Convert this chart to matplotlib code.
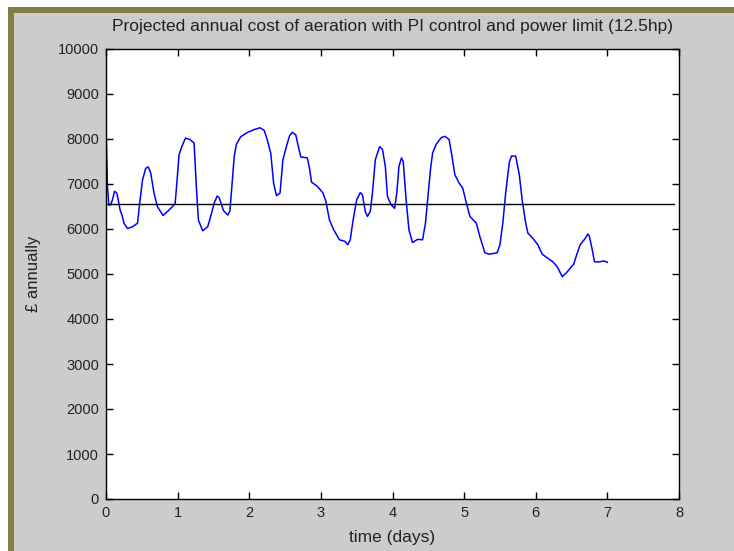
import matplotlib
matplotlib.use("Agg")
import matplotlib.pyplot as plt
from matplotlib.patches import Rectangle

# time (days) and projected annual cost (GBP)
t_days = [0.00, 0.005, 0.02, 0.04, 0.065, 0.09, 0.12, 0.15, 0.17, 0.196, 0.23, 0.25, 0.30,
          0.37, 0.44, 0.47, 0.51, 0.555, 0.59, 0.625, 0.67, 0.717, 0.797, 0.88, 0.965,
          0.985, 1.02, 1.06, 1.11, 1.17, 1.23, 1.26, 1.29, 1.35, 1.42, 1.46, 1.51, 1.55,
          1.58, 1.64, 1.70, 1.73, 1.75, 1.79, 1.82, 1.88, 1.98, 2.07, 2.15, 2.21, 2.25,
          2.30, 2.34, 2.38, 2.43, 2.47, 2.52, 2.56, 2.60, 2.65, 2.69, 2.72, 2.81, 2.84,
          2.87, 2.95, 3.03, 3.07, 3.12, 3.18, 3.26, 3.33, 3.375, 3.41, 3.45, 3.50, 3.55,
          3.58, 3.62, 3.65, 3.69, 3.72, 3.76, 3.82, 3.86, 3.90, 3.93, 3.98, 4.03, 4.06,
          4.09, 4.125, 4.15, 4.19, 4.23, 4.28, 4.35, 4.42, 4.46, 4.49, 4.53, 4.56, 4.61,
          4.68, 4.73, 4.79, 4.83, 4.87, 4.93, 4.98, 5.02, 5.08, 5.17, 5.22, 5.29, 5.35,
          5.46, 5.50, 5.54, 5.58, 5.63, 5.66, 5.72, 5.77, 5.81, 5.86, 5.89, 5.96, 6.03,
          6.09, 6.15, 6.24, 6.30, 6.37, 6.43, 6.53, 6.57, 6.62, 6.68, 6.73, 6.75, 6.79,
          6.82, 6.89, 6.95, 7.00]
cost = [8180, 8020, 6950, 6530, 6540, 6650, 6840, 6800, 6650, 6430, 6270, 6130, 6010,
        6050, 6130, 6570, 7090, 7350, 7380, 7240, 6800, 6500, 6300, 6420, 6560,
        6940, 7650, 7840, 8020, 7990, 7910, 6980, 6200, 5960, 6050, 6270, 6570, 6730,
        6700, 6410, 6310, 6400, 6800, 7610, 7880, 8050, 8150, 8210, 8250, 8190, 7990,
        7690, 7020, 6740, 6800, 7540, 7840, 8060, 8150, 8090, 7800, 7600, 7580, 7360,
        7040, 6950, 6800, 6610, 6200, 5980, 5760, 5730, 5650, 5760, 6200, 6650, 6810,
        6760, 6390, 6280, 6390, 6800, 7540, 7830, 7770, 7390, 6720, 6540, 6460, 6800,
        7390, 7580, 7500, 6650, 5980, 5700, 5770, 5760, 6130, 6650, 7320, 7690, 7880,
        8030, 8060, 7990, 7620, 7210, 7020, 6910, 6650, 6280, 6130, 5830, 5470, 5440,
        5470, 5650, 6130, 6800, 7470, 7620, 7620, 7210, 6650, 6130, 5910, 5790, 5650,
        5440, 5370, 5270, 5160, 4940, 5030, 5220, 5420, 5650, 5770, 5890, 5830, 5530,
        5270, 5270, 5290, 5260]

# average cost reference line
mean_cost = 6550
mean_span = [0, 7.93]

title = "Projected annual cost of aeration with PI control and power limit (12.5hp)"

W, H = 734, 551
fig = plt.figure(figsize=(W / 100, H / 100), dpi=100, facecolor="white")

# window frame: olive edge then grey panel
fig.patches.append(Rectangle((8 / W, 0), 1, (H - 7) / H, transform=fig.transFigure,
                             facecolor="#817f42", edgecolor="none", zorder=-2))
fig.patches.append(Rectangle((14 / W, 0), 1, (H - 13) / H, transform=fig.transFigure,
                             facecolor="#cccccc", edgecolor="none", zorder=-1))

ax = fig.add_axes([106 / W, (H - 499) / H, (679 - 106) / W, (499 - 49) / H])
ax.set_facecolor("white")

ax.plot(t_days, cost, color="#0000ff", lw=1.1)
ax.plot(mean_span, [mean_cost, mean_cost], color="black", lw=1.0)

ax.set_xlim(0, 8)
ax.set_ylim(0, 10000)
ax.set_xticks(range(0, 9))
ax.set_yticks(range(0, 10001, 1000))

font = "Liberation Sans"
ax.tick_params(direction="in", length=5, width=1, top=True, right=True,
               labelsize=10.5, colors="black", pad=5)
for lab in ax.get_xticklabels() + ax.get_yticklabels():
    lab.set_family(font)
    lab.set_color("#222222")
for s in ax.spines.values():
    s.set_linewidth(1)

ax.set_title(title, fontsize=12.5, family=font, color="#222222", pad=13)
ax.set_xlabel("time (days)", fontsize=12.5, family=font, color="#222222", labelpad=7)
ax.set_ylabel("£ annually", fontsize=12, family=font, color="#222222", labelpad=12)

fig.savefig("out.png", dpi=100, facecolor=fig.get_facecolor())
